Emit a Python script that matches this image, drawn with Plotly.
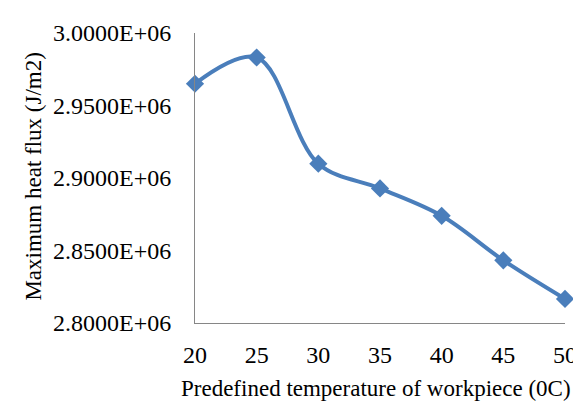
import plotly.graph_objects as go

temperature = [20, 25, 30, 35, 40, 45, 50]
heat_flux = [2.9650e6, 2.9831e6, 2.9099e6, 2.8928e6, 2.8739e6, 2.8432e6, 2.8166e6]
y_ticks = [2.80e6, 2.85e6, 2.90e6, 2.95e6, 3.00e6]
x_ticks = [20, 25, 30, 35, 40, 45, 50]

FONT = "Liberation Serif, Times New Roman, serif"
BLUE = "#4A7EBB"

fig = go.Figure(go.Scatter(
    x=temperature,
    y=heat_flux,
    mode="lines+markers",
    line=dict(color=BLUE, width=4, shape="spline", smoothing=1),
    marker=dict(symbol="diamond", size=14, color=BLUE),
    cliponaxis=False,
))

fig.update_xaxes(
    range=[20, 50],
    tickvals=x_ticks,
    ticks="",
    showgrid=False,
    zeroline=False,
    showline=True,
    linecolor="#868686",
    linewidth=1,
    tickfont=dict(family=FONT, size=24, color="#000000"),
    ticklabelstandoff=10,
)
fig.update_yaxes(
    range=[2.8e6, 3.0e6],
    tickvals=y_ticks,
    ticktext=[f"{v:.4E}" for v in y_ticks],
    ticks="",
    showgrid=False,
    zeroline=False,
    showline=True,
    linecolor="#868686",
    linewidth=1,
    tickfont=dict(family=FONT, size=24, color="#000000"),
    ticklabelstandoff=18,
)

fig.update_layout(
    width=581,
    height=402,
    margin=dict(l=187, r=24, t=22, b=87),
    paper_bgcolor="white",
    plot_bgcolor="white",
    showlegend=False,
    font=dict(family=FONT),
    annotations=[
        dict(text="Predefined temperature of workpiece (0C)", xref="paper", yref="paper",
             x=0.49, y=-0.225, xanchor="center", yanchor="middle", showarrow=False,
             font=dict(family=FONT, size=23, color="#000000")),
        dict(text="Maximum heat flux (J/m2)", xref="paper", yref="paper",
             x=-0.435, y=0.505, xanchor="center", yanchor="middle", showarrow=False,
             textangle=-90, font=dict(family=FONT, size=23, color="#000000")),
    ],
)

fig.write_html("out.html")
